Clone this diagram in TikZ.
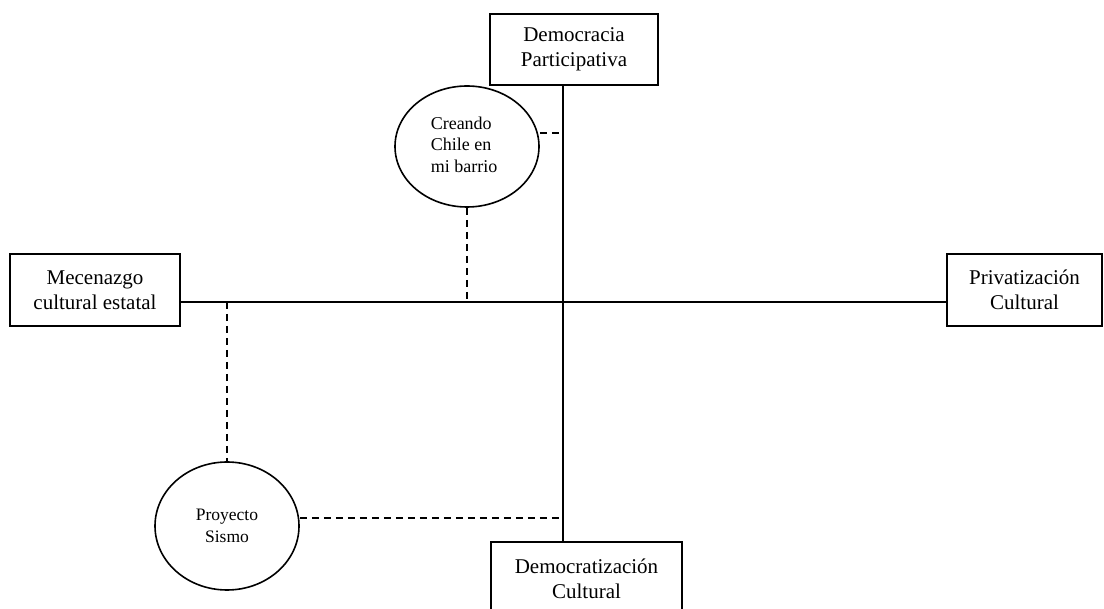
\documentclass[tikz,border=0pt]{standalone}
\usepackage{fontspec}
\setmainfont{Liberation Serif}
\usetikzlibrary{shapes.geometric}
\begin{document}
\begin{tikzpicture}[x=1pt,y=-1pt,
  boxnode/.style={draw,line width=1.6pt,inner sep=0pt,align=center,font=\fontsize{21}{25}\selectfont},
  ellnode/.style={draw,ellipse,line width=1.6pt,inner sep=0pt,font=\fontsize{18}{21.7}\selectfont},
  axis/.style={line width=1.6pt},
  dashline/.style={line width=1.6pt,dash pattern=on 7pt off 5pt}]
\useasboundingbox (0,0) rectangle (1104,609);
\node[boxnode,minimum width=168pt,minimum height=71pt] (tp) at (574,49.5) {Democracia\\Participativa};
\node[boxnode,minimum width=170pt,minimum height=72pt] (lf) at (95,290) {Mecenazgo\\cultural estatal};
\node[boxnode,minimum width=155pt,minimum height=72pt] (rt) at (1024.5,290) {Privatización\\Cultural};
\node[boxnode,minimum width=191pt,minimum height=73pt] (bt) at (586.5,578.5) {Democratización\\Cultural};
\node[ellnode,minimum width=144pt,minimum height=121pt] (e1) at (467,146.5) {\hspace*{-6pt}\begin{tabular}{@{}l@{}}Creando\\Chile en\\mi barrio\end{tabular}};
\node[ellnode,minimum width=144pt,minimum height=128pt,font=\fontsize{17.5}{22}\selectfont,align=center] (e2) at (227,526) {Proyecto\\Sismo};
\coordinate (c) at (563,302);
\coordinate (d1) at (467,302);
\coordinate (d2) at (227,302);
\draw[axis] (lf.east |- c) -- (rt.west |- c);
\draw[axis] (c |- tp.south) -- (c |- bt.north);
\draw[dashline] (e1.east |- 0,133) -- (c |- 0,133);
\draw[dashline] (e1.south) -- (d1);
\draw[dashline] (d2) -- (e2.north);
\draw[dashline] (e2.east |- 0,518) -- (c |- 0,518);
\end{tikzpicture}
\end{document}
